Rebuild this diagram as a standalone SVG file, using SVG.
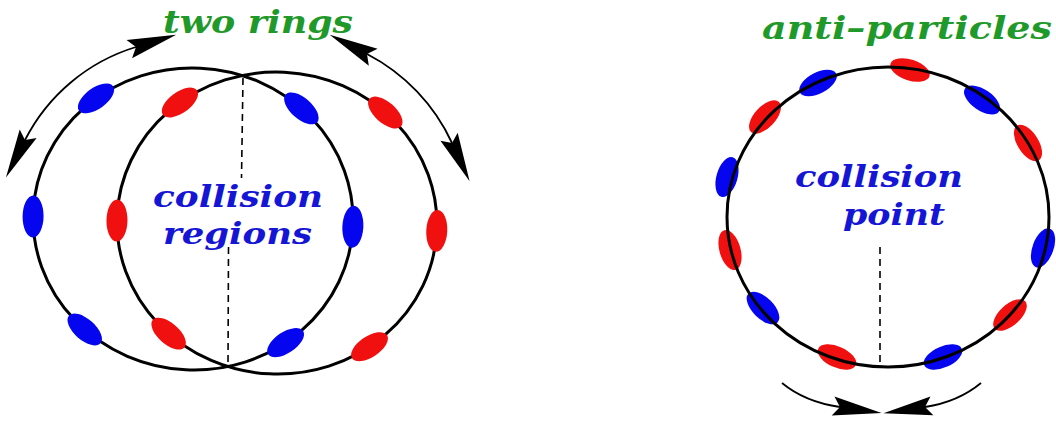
<svg xmlns="http://www.w3.org/2000/svg" width="1056" height="423" viewBox="0 0 1056 423">
<style>
.ring{fill:none;stroke:#000;stroke-width:3}
.b{fill:#0505f0}
.r{fill:#f01010}
.dash{fill:none;stroke:#000;stroke-width:1.6;stroke-dasharray:7 5}
.arc{fill:none;stroke:#000;stroke-width:1.8}
.g{font-family:"DejaVu Serif","Liberation Serif",serif;font-weight:bold;font-style:italic;font-size:31px;fill:#1f9a2a}
.t{font-family:"DejaVu Serif","Liberation Serif",serif;font-weight:bold;font-style:italic;font-size:29px;fill:#1515d6}
</style>
<defs>
<marker id="ah" markerUnits="userSpaceOnUse" markerWidth="60" markerHeight="30" viewBox="-10 -15 60 30" refX="0" refY="0" orient="auto-start-reverse" overflow="visible">
<path d="M42,0 L-7,-9.5 L0,0 L-7,9.5 Z" fill="#000"/>
</marker>
</defs>
<rect width="1056" height="423" fill="#fff"/>
<g id="two-rings" transform="rotate(2.8 235 221)">
<g id="ring-left">
<ellipse class="ring" cx="193" cy="221" rx="160" ry="151"/>
<ellipse class="b" cx="353" cy="221" rx="21" ry="10.5" transform="rotate(90 353 221)"/>
<ellipse class="b" cx="295.8" cy="105.3" rx="21" ry="10.5" transform="rotate(38.4 295.8 105.3)"/>
<ellipse class="b" cx="291.5" cy="340" rx="21" ry="10.5" transform="rotate(-36.4 291.5 340)"/>
<ellipse class="b" cx="90.2" cy="336.7" rx="21" ry="10.5" transform="rotate(38.4 90.2 336.7)"/>
<ellipse class="b" cx="33.1" cy="226.3" rx="21" ry="10.5" transform="rotate(88 33.1 226.3)"/>
<ellipse class="b" cx="90.2" cy="105.3" rx="21" ry="10.5" transform="rotate(-38.4 90.2 105.3)"/>
</g>
<g id="ring-right">
<ellipse class="ring" cx="277" cy="221" rx="160" ry="151"/>
<ellipse class="r" cx="437" cy="221" rx="21" ry="10.5" transform="rotate(90 437 221)"/>
<ellipse class="r" cx="379.8" cy="105.3" rx="21" ry="10.5" transform="rotate(38.4 379.8 105.3)"/>
<ellipse class="r" cx="375.5" cy="340" rx="21" ry="10.5" transform="rotate(-36.4 375.5 340)"/>
<ellipse class="r" cx="174.2" cy="336.7" rx="21" ry="10.5" transform="rotate(38.4 174.2 336.7)"/>
<ellipse class="r" cx="117.1" cy="226.3" rx="21" ry="10.5" transform="rotate(88 117.1 226.3)"/>
<ellipse class="r" cx="174.2" cy="105.3" rx="21" ry="10.5" transform="rotate(-38.4 174.2 105.3)"/>
</g>
</g>
<g id="anti-ring">
<ellipse class="r" cx="910" cy="70" rx="20.5" ry="10.5" transform="rotate(18 910 70)"/>
<ellipse class="b" cx="818" cy="83" rx="20.5" ry="10.5" transform="rotate(-28 818 83)"/>
<ellipse class="r" cx="765" cy="117" rx="20.5" ry="10.5" transform="rotate(-47 765 117)"/>
<ellipse class="b" cx="727" cy="177" rx="20.5" ry="10.5" transform="rotate(-74 727 177)"/>
<ellipse class="r" cx="730" cy="250" rx="20.5" ry="10.5" transform="rotate(74 730 250)"/>
<ellipse class="b" cx="763" cy="308" rx="20.5" ry="10.5" transform="rotate(45 763 308)"/>
<ellipse class="r" cx="837" cy="357" rx="20.5" ry="10.5" transform="rotate(24 837 357)"/>
<ellipse class="b" cx="943" cy="357" rx="20.5" ry="10.5" transform="rotate(-24 943 357)"/>
<ellipse class="r" cx="1010" cy="315" rx="20.5" ry="10.5" transform="rotate(-42 1010 315)"/>
<ellipse class="b" cx="1043" cy="248" rx="20.5" ry="10.5" transform="rotate(-70 1043 248)"/>
<ellipse class="r" cx="1028" cy="143" rx="20.5" ry="10.5" transform="rotate(58 1028 143)"/>
<ellipse class="b" cx="982" cy="100" rx="20.5" ry="10.5" transform="rotate(34 982 100)"/>
<ellipse class="ring" cx="888" cy="217" rx="161" ry="150"/>
</g>
<g id="connectors">
<line class="dash" x1="243" y1="78" x2="241.5" y2="178"/>
<line class="dash" x1="228.5" y1="247" x2="228" y2="367"/>
<line class="dash" x1="880" y1="247" x2="880" y2="366"/>
<path class="arc" d="M25,140 A185,185 0 0 1 136,47" marker-start="url(#ah)" marker-end="url(#ah)"/>
<path class="arc" d="M367,54 A190,190 0 0 1 452,143" marker-start="url(#ah)" marker-end="url(#ah)"/>
<path class="arc" d="M782,383 Q805,402 840,407" marker-end="url(#ah)"/>
<path class="arc" d="M981,383 Q958,402 925,407" marker-end="url(#ah)"/>
</g>
<g id="labels">
<text class="g" x="163" y="33" textLength="190" lengthAdjust="spacingAndGlyphs">two rings</text>
<text class="g" x="762" y="39" textLength="290" lengthAdjust="spacingAndGlyphs">anti–particles</text>
<text class="t" x="153" y="207" textLength="170" lengthAdjust="spacingAndGlyphs">collision</text>
<text class="t" x="163" y="244" textLength="149" lengthAdjust="spacingAndGlyphs">regions</text>
<text class="t" x="795" y="187" textLength="168" lengthAdjust="spacingAndGlyphs">collision</text>
<text class="t" x="843" y="225" textLength="102" lengthAdjust="spacingAndGlyphs">point</text>
</g>
</svg>
